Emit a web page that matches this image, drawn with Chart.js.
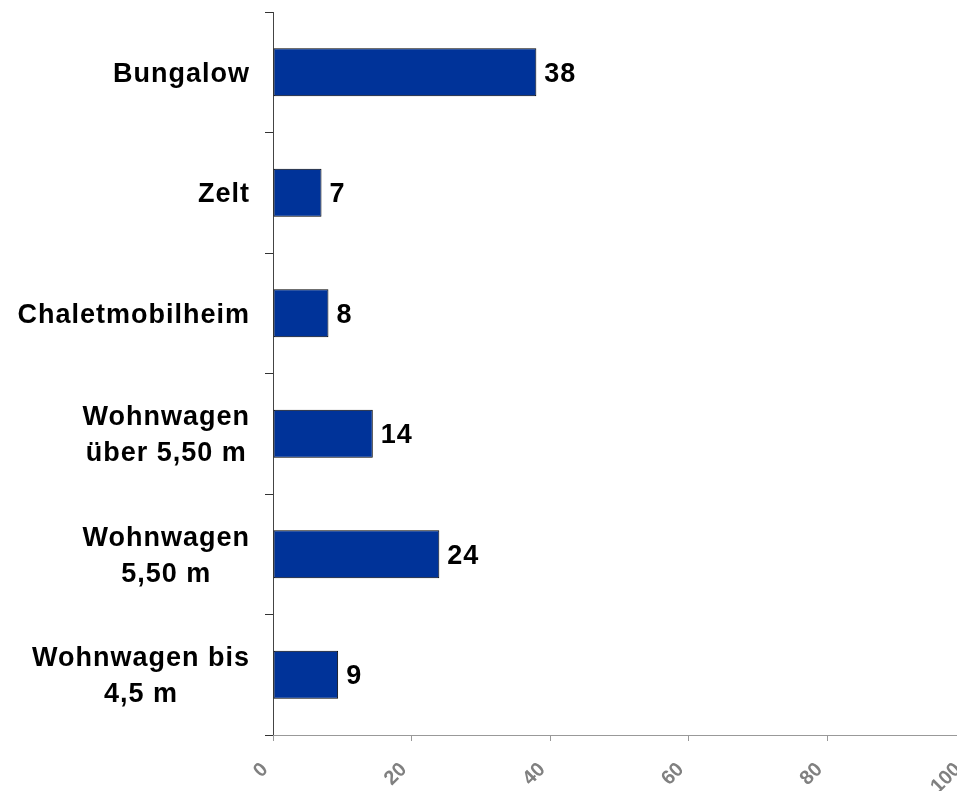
<!DOCTYPE html>
<html>
<head>
<meta charset="utf-8">
<script src="https://cdn.jsdelivr.net/npm/chart.js@4"></script>
<style>
  html, body { margin: 0; padding: 0; background: #fff; overflow: hidden; }
  canvas { display: block; }
</style>
</head>
<body>
<canvas id="chart" width="980" height="791"></canvas>
<script>
// Kategorien (von oben nach unten), mehrzeilig
const categories = [
	['Bungalow'],
	['Zelt'],
	['Chaletmobilheim'],
	['Wohnwagen', 'über 5,50 m'],
	['Wohnwagen', '5,50 m'],
	['Wohnwagen bis', '4,5 m']
];
const values = [38, 7, 8, 14.4, 24, 9.4];
const xTicks = [0, 20, 40, 60, 80, 100];

const labelFont = 'bold 27px "Liberation Sans", Arial, sans-serif';

// Beschriftung der Kategorien: Block rechtsbündig, Zeilen zentriert
const categoryLabels = {
	id: 'categoryLabels',
	afterDraw(chart) {
		const ctx = chart.ctx;
		const yScale = chart.scales.y;
		const right = chart.chartArea.left - 23;
		const lineH = 36;
		ctx.save();
		ctx.font = labelFont;
		ctx.letterSpacing = '1px';
		ctx.fillStyle = '#000';
		ctx.textAlign = 'center';
		ctx.textBaseline = 'middle';
		categories.forEach(function(lines, i) {
			let w = 0;
			lines.forEach(function(l) { w = Math.max(w, ctx.measureText(l).width); });
			const cx = right - w / 2;
			const cy = yScale.getPixelForValue(i) + 2;
			const top = cy - (lines.length - 1) * lineH / 2;
			lines.forEach(function(l, j) { ctx.fillText(l, cx, top + j * lineH); });
		});
		ctx.restore();
	}
};

// Werte rechts neben den Balken
const valueLabels = {
	id: 'valueLabels',
	afterDatasetsDraw(chart) {
		const ctx = chart.ctx;
		const meta = chart.getDatasetMeta(0);
		ctx.save();
		ctx.font = labelFont;
		ctx.letterSpacing = '1px';
		ctx.fillStyle = '#000';
		ctx.textAlign = 'left';
		ctx.textBaseline = 'middle';
		meta.data.forEach(function(bar, i) {
			ctx.fillText(String(Math.round(values[i])), bar.x + 8, bar.y + 2);
		});
		ctx.restore();
	}
};

new Chart(document.getElementById('chart'), {
	type: 'bar',
	data: {
		labels: categories.map(function(c) { return c.join(' '); }),
		datasets: [{
			data: values,
			backgroundColor: '#003399',
			borderColor: '#000',
			borderWidth: 1,
			borderSkipped: false,
			categoryPercentage: 1,
			barPercentage: 0.4
		}]
	},
	options: {
		indexAxis: 'y',
		responsive: false,
		animation: false,
		layout: { padding: { top: 12, right: 14, left: 0, bottom: 0 } },
		plugins: {
			legend: { display: false },
			tooltip: { enabled: false }
		},
		scales: {
			y: {
				offset: true,
				afterFit(scale) { scale.width = 273; },
				ticks: { display: false },
				grid: {
					offset: true,
					drawOnChartArea: false,
					tickLength: 8,
					color: '#333'
				},
				border: { color: '#444', width: 1 }
			},
			x: {
				min: 0,
				max: 100,
				afterFit(scale) {
					scale.height = 56;
					scale.paddingLeft = 0;
					scale.paddingRight = 0;
				},
				afterBuildTicks(scale) {
					scale.ticks = xTicks.map(function(v) { return { value: v }; });
				},
				ticks: {
					color: '#808080',
					font: { family: '"Liberation Sans", Arial, sans-serif', size: 20, weight: 'bold' },
					minRotation: 45,
					maxRotation: 45,
					padding: 17,
					labelOffset: -8
				},
				grid: {
					drawOnChartArea: false,
					tickLength: 6,
					color: '#999'
				},
				border: { color: '#999', width: 1 }
			}
		}
	},
	plugins: [categoryLabels, valueLabels]
});
</script>
</body>
</html>
